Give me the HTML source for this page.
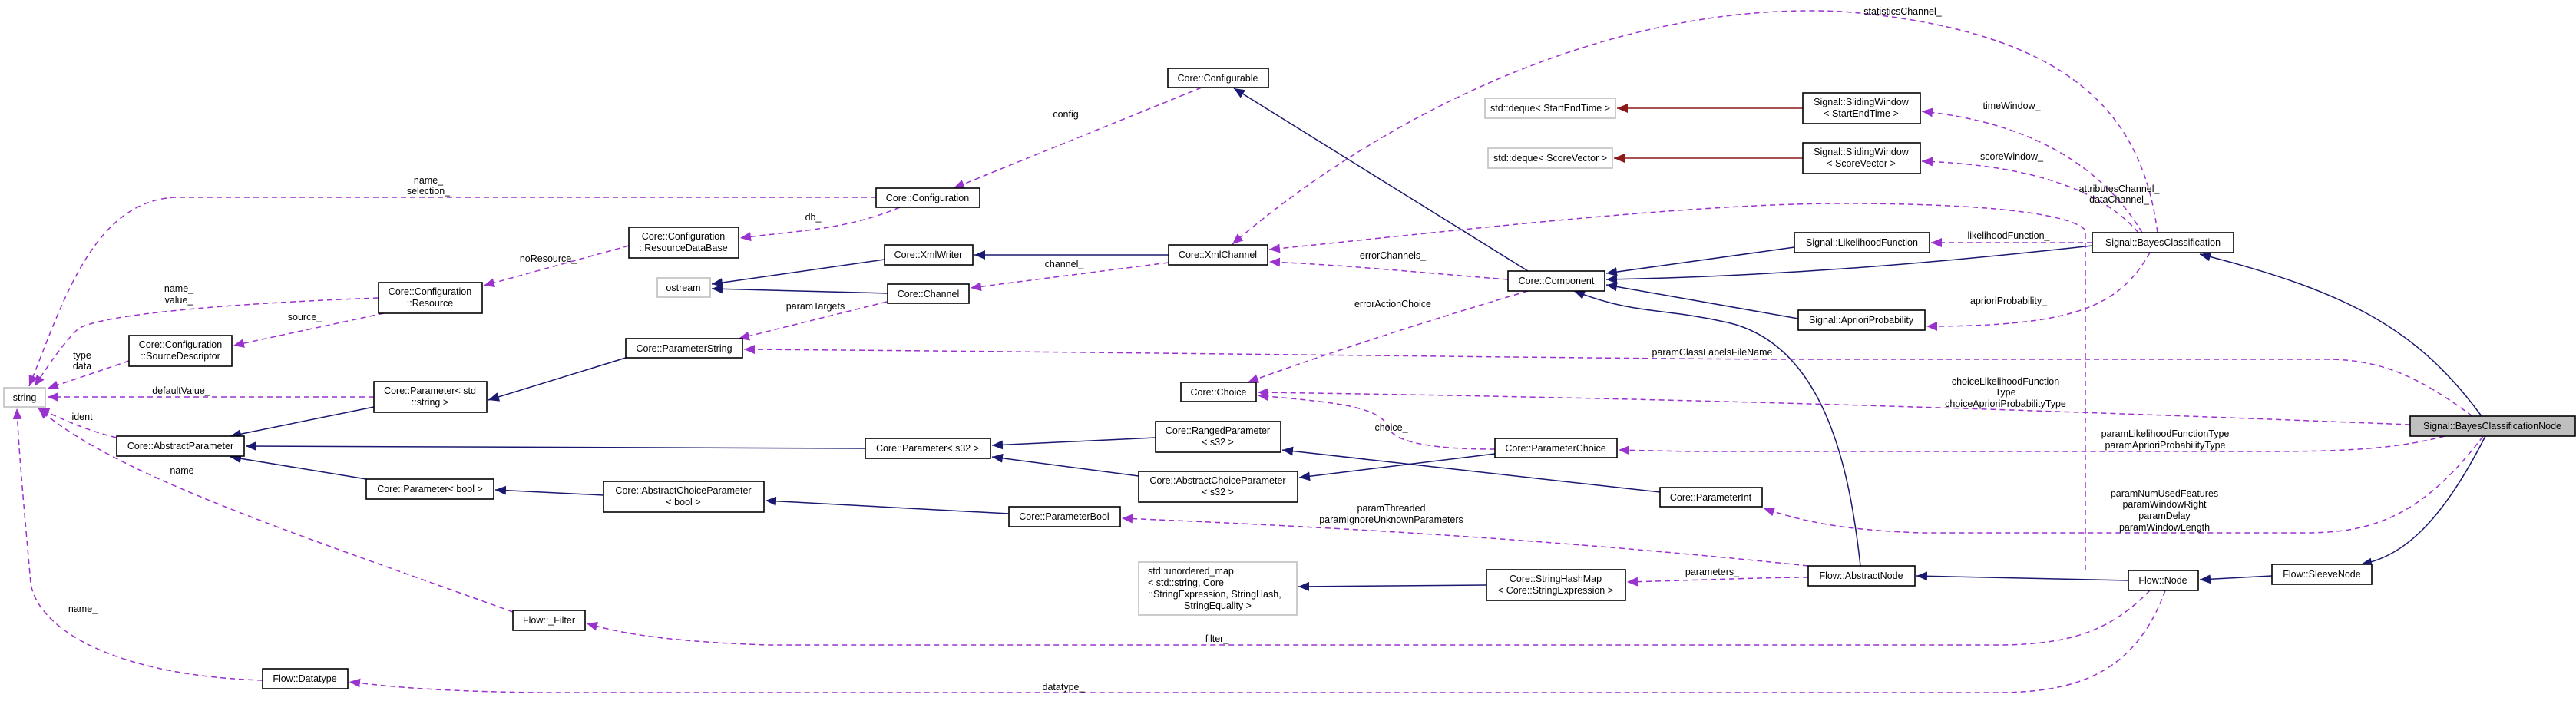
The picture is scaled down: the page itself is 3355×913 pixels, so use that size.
<!DOCTYPE html>
<html><head><meta charset="utf-8"><style>
html,body{margin:0;padding:0;background:#fff}
svg text{font-family:"Liberation Sans",sans-serif;font-size:12.5px;fill:#000}
.b{fill:#fff;stroke:#000;stroke-width:1.6}
.g{fill:#fff;stroke:#bfbfbf;stroke-width:1.6}
.inh{fill:none;stroke:#191970;stroke-width:1.5}
.mem{fill:none;stroke:#9a32cd;stroke-width:1.5;stroke-dasharray:7,5}
.red{fill:none;stroke:#8b1a1a;stroke-width:1.5}
</style></head><body>
<svg width="3355" height="908" viewBox="0 0 3355 908" xmlns="http://www.w3.org/2000/svg">
<defs>
<marker id="ai" markerUnits="userSpaceOnUse" markerWidth="16" markerHeight="12" refX="14" refY="6" orient="auto"><path d="M0,0 L14,6 L0,12 z" fill="#191970"/></marker>
<marker id="am" markerUnits="userSpaceOnUse" markerWidth="16" markerHeight="12" refX="14" refY="6" orient="auto"><path d="M0,0 L14,6 L0,12 z" fill="#9a32cd"/></marker>
<marker id="ar" markerUnits="userSpaceOnUse" markerWidth="16" markerHeight="12" refX="14" refY="6" orient="auto"><path d="M0,0 L14,6 L0,12 z" fill="#8b1a1a"/></marker>
</defs>

<!-- inheritance -->
<g class="inh" marker-end="url(#ai)">
<path d="M815,466 L636,521"/>
<path d="M487,530 L300,568"/>
<path d="M1127,584 L320,581"/>
<path d="M477,624 L300,595"/>
<path d="M786,645 L645,638"/>
<path d="M1314,669 L997,652"/>
<path d="M1505,570 L1292,580"/>
<path d="M1483,620 L1292,595"/>
<path d="M2162,641 L1670,586"/>
<path d="M1947,591 L1692,622"/>
<path d="M1936,762 L1691,764"/>
<path d="M2772,756 L2496,750"/>
<path d="M2959,750 L2865,755"/>
<path d="M3237,568 C3180,680 3130,725 3075,735"/>
<path d="M3232,542 C3150,430 3060,380 2865,331"/>
<path d="M1990,353 L1607,115"/>
<path d="M2337,322 L2092,356"/>
<path d="M2725,320 C2500,345 2300,360 2092,364"/>
<path d="M2342,415 L2092,371"/>
<path d="M2423,737 C2410,620 2380,450 2250,420 C2160,400 2130,410 2050,379"/>
<path d="M1522,332 L1269,332"/>
<path d="M1152,338 L927,370"/>
<path d="M1156,382 L927,376"/>
</g>
<g class="red" marker-end="url(#ar)">
<path d="M2348,141 L2106,141"/>
<path d="M2348,206 L2102,206"/>
</g>

<!-- members -->
<g class="mem" marker-end="url(#am)">
<path d="M1565,114 L1242,245"/>
<path d="M1172,270 C1100,300 1040,300 964,310"/>
<path d="M819,320 L630,372"/>
<path d="M500,408 L304,450"/>
<path d="M493,388 C300,395 120,410 100,430 C80,450 60,480 45,503"/>
<path d="M1141,257 L230,257 C120,260 80,400 38,503"/>
<path d="M168,470 L62,506"/>
<path d="M487,517 L62,517"/>
<path d="M152,570 C110,560 80,545 50,532"/>
<path d="M668,797 C400,700 150,620 50,532"/>
<path d="M342,886 C150,880 50,820 40,760 C35,700 25,600 22,532"/>
<path d="M1155,393 L962,441"/>
<path d="M1522,342 L1264,375"/>
<path d="M1964,364 C1850,355 1750,345 1653,341"/>
<path d="M2716,743 L2716,300 C2700,280 2600,265 2400,265 C2200,265 1900,300 1653,325"/>
<path d="M2810,303 C2790,150 2700,40 2400,15 C2100,0 1800,150 1605,318"/>
<path d="M1990,379 C1850,420 1700,470 1625,498"/>
<path d="M3220,542 C3150,490 3100,468 3030,468 L2300,468 C1900,465 1400,458 969,455"/>
<path d="M3139,553 C2800,540 2300,520 1638,511"/>
<path d="M1947,585 C1860,585 1820,575 1810,560 C1800,530 1750,525 1638,515"/>
<path d="M3184,568 C3120,585 3050,588 2950,588 L2200,588 L2108,586"/>
<path d="M3234,568 C3150,680 3080,694 3000,694 L2500,694 C2400,690 2350,680 2297,662"/>
<path d="M2355,737 C2000,700 1700,685 1461,675"/>
<path d="M2355,752 C2300,752 2200,756 2119,758"/>
<path d="M2800,769 C2750,820 2700,840 2600,840 L1000,840 C850,835 800,822 764,812"/>
<path d="M2820,769 C2780,880 2700,902 2600,902 L700,902 C550,900 500,893 455,888"/>
<path d="M2725,316 L2515,316"/>
<path d="M2800,329 C2760,400 2700,425 2509,425"/>
<path d="M2790,303 C2740,220 2650,160 2503,145"/>
<path d="M2785,303 C2740,250 2650,215 2503,210"/>
</g>

<!-- nodes -->
<rect class="g" x="5" y="505" width="54" height="25"/><text x="32" y="522" text-anchor="middle">string</text>
<rect class="b" x="493" y="368" width="135" height="40"/><text x="560" y="384" text-anchor="middle">Core::Configuration</text><text x="560" y="399" text-anchor="middle">::Resource</text>
<rect class="b" x="168" y="437" width="134" height="40"/><text x="235" y="453" text-anchor="middle">Core::Configuration</text><text x="235" y="468" text-anchor="middle">::SourceDescriptor</text>
<rect class="b" x="487" y="497" width="147" height="40"/><text x="560" y="513" text-anchor="middle">Core::Parameter&lt; std</text><text x="560" y="528" text-anchor="middle">::string &gt;</text>
<rect class="b" x="152" y="568" width="166" height="26"/><text x="235" y="585" text-anchor="middle">Core::AbstractParameter</text>
<rect class="b" x="477" y="624" width="166" height="26"/><text x="560" y="641" text-anchor="middle">Core::Parameter&lt; bool &gt;</text>
<rect class="b" x="819" y="296" width="143" height="40"/><text x="890" y="312" text-anchor="middle">Core::Configuration</text><text x="890" y="327" text-anchor="middle">::ResourceDataBase</text>
<rect class="b" x="815" y="441" width="152" height="25"/><text x="891" y="458" text-anchor="middle">Core::ParameterString</text>
<rect class="b" x="786" y="627" width="209" height="40"/><text x="890" y="643" text-anchor="middle">Core::AbstractChoiceParameter</text><text x="890" y="658" text-anchor="middle">&lt; bool &gt;</text>
<rect class="b" x="1521" y="89" width="131" height="25"/><text x="1586" y="106" text-anchor="middle">Core::Configurable</text>
<rect class="b" x="1141" y="245" width="135" height="25"/><text x="1208" y="262" text-anchor="middle">Core::Configuration</text>
<rect class="b" x="1152" y="319" width="115" height="26"/><text x="1209" y="336" text-anchor="middle">Core::XmlWriter</text>
<rect class="b" x="1522" y="319" width="129" height="26"/><text x="1586" y="336" text-anchor="middle">Core::XmlChannel</text>
<rect class="b" x="1156" y="370" width="106" height="25"/><text x="1209" y="387" text-anchor="middle">Core::Channel</text>
<rect class="g" x="856" y="362" width="69" height="25"/><text x="890" y="379" text-anchor="middle">ostream</text>
<rect class="b" x="1964" y="353" width="126" height="26"/><text x="2027" y="370" text-anchor="middle">Core::Component</text>
<rect class="g" x="1934" y="128" width="170" height="26"/><text x="2019" y="145" text-anchor="middle">std::deque&lt; StartEndTime &gt;</text>
<rect class="g" x="1938" y="193" width="162" height="26"/><text x="2019" y="210" text-anchor="middle">std::deque&lt; ScoreVector &gt;</text>
<rect class="b" x="2348" y="121" width="153" height="40"/><text x="2424" y="137" text-anchor="middle">Signal::SlidingWindow</text><text x="2424" y="152" text-anchor="middle">&lt; StartEndTime &gt;</text>
<rect class="b" x="2348" y="186" width="153" height="40"/><text x="2424" y="202" text-anchor="middle">Signal::SlidingWindow</text><text x="2424" y="217" text-anchor="middle">&lt; ScoreVector &gt;</text>
<rect class="b" x="2337" y="303" width="176" height="26"/><text x="2425" y="320" text-anchor="middle">Signal::LikelihoodFunction</text>
<rect class="b" x="2725" y="303" width="184" height="26"/><text x="2817" y="320" text-anchor="middle">Signal::BayesClassification</text>
<rect class="b" x="2342" y="404" width="165" height="26"/><text x="2424" y="421" text-anchor="middle">Signal::AprioriProbability</text>
<rect class="b" x="1127" y="571" width="163" height="26"/><text x="1208" y="588" text-anchor="middle">Core::Parameter&lt; s32 &gt;</text>
<rect class="b" x="1505" y="549" width="163" height="40"/><text x="1586" y="565" text-anchor="middle">Core::RangedParameter</text><text x="1586" y="580" text-anchor="middle">&lt; s32 &gt;</text>
<rect class="b" x="1538" y="498" width="98" height="25"/><text x="1587" y="515" text-anchor="middle">Core::Choice</text>
<rect class="b" x="1483" y="614" width="207" height="40"/><text x="1586" y="630" text-anchor="middle">Core::AbstractChoiceParameter</text><text x="1586" y="645" text-anchor="middle">&lt; s32 &gt;</text>
<rect class="b" x="1314" y="660" width="145" height="26"/><text x="1386" y="677" text-anchor="middle">Core::ParameterBool</text>
<rect class="g" x="1483" y="732" width="206" height="69"/><text x="1495" y="748">std::unordered_map</text><text x="1495" y="763">&lt; std::string, Core</text><text x="1495" y="778">::StringExpression, StringHash,</text><text x="1586" y="793" text-anchor="middle">StringEquality &gt;</text>
<rect class="b" x="1947" y="571" width="159" height="25"/><text x="2026" y="588" text-anchor="middle">Core::ParameterChoice</text>
<rect class="b" x="2162" y="635" width="133" height="25"/><text x="2228" y="652" text-anchor="middle">Core::ParameterInt</text>
<rect class="b" x="2355" y="737" width="139" height="26"/><text x="2424" y="754" text-anchor="middle">Flow::AbstractNode</text>
<rect class="b" x="1936" y="742" width="181" height="40"/><text x="2026" y="758" text-anchor="middle">Core::StringHashMap</text><text x="2026" y="773" text-anchor="middle">&lt; Core::StringExpression &gt;</text>
<rect class="b" x="668" y="795" width="94" height="26"/><text x="715" y="812" text-anchor="middle">Flow::_Filter</text>
<rect class="b" x="342" y="871" width="111" height="26"/><text x="397" y="888" text-anchor="middle">Flow::Datatype</text>
<rect x="3139" y="542" width="215" height="26" fill="#bfbfbf" stroke="#000" stroke-width="1.6"/><text x="3246" y="559" text-anchor="middle">Signal::BayesClassificationNode</text>
<rect class="b" x="2959" y="735" width="130" height="26"/><text x="3024" y="752" text-anchor="middle">Flow::SleeveNode</text>
<rect class="b" x="2772" y="743" width="91" height="26"/><text x="2817" y="760" text-anchor="middle">Flow::Node</text>

<!-- edge labels -->
<g text-anchor="middle">
<text x="558" y="239">name_</text><text x="558" y="253">selection_</text>
<text x="714" y="341">noResource_</text>
<text x="233" y="380">name_</text><text x="233" y="395">value_</text>
<text x="397" y="417">source_</text>
<text x="107" y="467">type</text><text x="107" y="481">data</text>
<text x="236" y="513">defaultValue_</text>
<text x="107" y="547">ident</text>
<text x="237" y="617">name</text>
<text x="108" y="797">name_</text>
<text x="1388" y="153">config</text>
<text x="1059" y="287">db_</text>
<text x="1386" y="348">channel_</text>
<text x="1062" y="403">paramTargets</text>
<text x="1814" y="337">errorChannels_</text>
<text x="1814" y="400">errorActionChoice</text>
<text x="2478" y="19">statisticsChannel_</text>
<text x="2760" y="250">attributesChannel_</text><text x="2760" y="264">dataChannel_</text>
<text x="2620" y="142">timeWindow_</text>
<text x="2620" y="208">scoreWindow_</text>
<text x="2616" y="311">likelihoodFunction_</text>
<text x="2616" y="396">aprioriProbability_</text>
<text x="2230" y="463">paramClassLabelsFileName</text>
<text x="2612" y="501">choiceLikelihoodFunction</text><text x="2612" y="515">Type</text><text x="2612" y="530">choiceAprioriProbabilityType</text>
<text x="1812" y="561">choice_</text>
<text x="2820" y="569">paramLikelihoodFunctionType</text><text x="2820" y="584">paramAprioriProbabilityType</text>
<text x="2819" y="647">paramNumUsedFeatures</text><text x="2819" y="661">paramWindowRight</text><text x="2819" y="676">paramDelay</text><text x="2819" y="691">paramWindowLength</text>
<text x="1812" y="666">paramThreaded</text><text x="1812" y="681">paramIgnoreUnknownParameters</text>
<text x="2230" y="749">parameters_</text>
<text x="1585" y="836">filter_</text>
<text x="1385" y="899">datatype_</text>
</g>
</svg>
</body></html>
